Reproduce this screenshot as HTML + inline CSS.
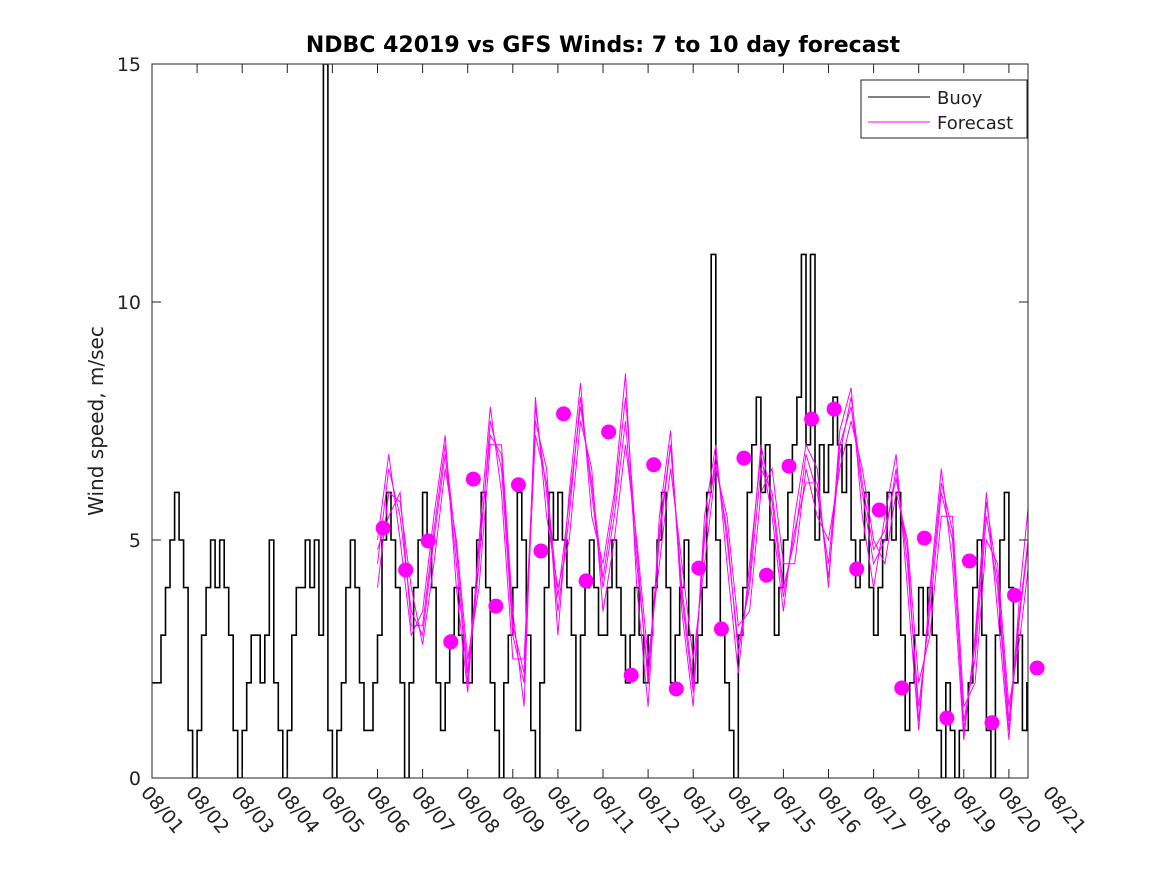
<!DOCTYPE html>
<html><head><meta charset="utf-8"><style>
body{margin:0;background:#fff}
svg{font-family:"DejaVu Sans","Liberation Sans",sans-serif}
</style></head><body>
<svg id="c" width="1167" height="875" xmlns="http://www.w3.org/2000/svg">
<rect width="1167" height="875" fill="#fff"/>
<defs><clipPath id="clip"><rect x="152" y="64" width="876" height="714"/></clipPath></defs>
<text x="603" y="52" text-anchor="middle" font-size="22" font-weight="bold" fill="#000">NDBC 42019 vs GFS Winds: 7 to 10 day forecast</text>
<text transform="translate(103,421) rotate(-90)" text-anchor="middle" font-size="20" fill="#222">Wind speed, m/sec</text>
<g id="plot" clip-path="url(#clip)"></g>
<g id="dots"></g>
<g id="axes"></g>
<g>
<rect x="861" y="80" width="166" height="58" fill="#fff" stroke="#222" stroke-width="1"/>
<line x1="868" y1="97" x2="930" y2="97" stroke="#000" stroke-width="1"/>
<text x="937" y="104" font-size="18" fill="#222">Buoy</text>
<line x1="868" y1="122" x2="930" y2="122" stroke="#f0f" stroke-width="1"/>
<text x="937" y="129" font-size="18" fill="#222">Forecast</text>
</g>
</svg>
<script>
const dateLabels=["08/01","08/02","08/03","08/04","08/05","08/06","08/07","08/08","08/09","08/10","08/11","08/12","08/13","08/14","08/15","08/16","08/17","08/18","08/19","08/20","08/21"];
const yTicks=[0,5,10,15];
const buoyStart=0, buoyStep=0.1;
const buoyV=[2,2,3,4,5,6,5,4,1,0,
1,3,4,5,4,5,4,3,1,0,
1,2,3,3,2,3,5,2,1,0,
1,3,4,4,5,4,5,3,15,1,
0,1,2,4,5,4,2,1,1,2,
3,5,6,5,4,2,0,2,4,5,
6,5,4,2,1,2,3,4,3,2,
2,4,5,6,4,2,1,0,2,3,
4,6,5,3,1,0,2,4,6,5,
6,5,4,3,1,3,4,5,4,3,
3,4,5,4,3,2,3,4,3,2,
3,4,5,6,4,2,3,4,5,3,
2,3,4,6,11,5,3,2,1,0,
3,4,6,7,8,6,7,5,3,4,
5,6,7,8,11,7,11,5,7,6,
7,8,7,6,7,5,4,5,6,4,
3,4,5,6,5,6,3,1,2,3,
4,3,4,3,1,0,2,1,0,1,
1,2,4,5,3,1,0,3,5,6,
4,2,3,1,2];
const fcStart=5.0, fcStep=0.25;
const fc1=[4.5,6.5,5.5,3.5,3.0,5.0,6.8,4.5,2.0,4.5,7.5,6.5,3.0,2.0,7.8,6.0,3.5,5.5,8.0,6.0,4.0,5.5,7.5,4.5,2.2,5.0,7.0,4.0,2.0,5.0,6.8,5.0,2.8,4.0,6.5,6.0,4.0,5.0,6.8,6.0,4.5,7.0,7.8,6.0,4.5,5.0,6.5,4.5,1.5,3.5,6.0,5.0,1.2,2.5,5.5,4.0,1.0,3.5,5.5];
const fc2=[5.0,6.8,5.0,3.0,3.5,5.5,7.2,4.0,1.8,5.0,7.8,6.0,2.5,2.5,7.5,6.5,3.0,6.0,8.3,5.5,4.5,6.0,8.5,4.0,1.5,5.5,7.3,3.5,1.5,5.5,7.0,4.5,2.2,4.5,6.8,5.5,3.5,5.5,7.0,6.5,4.0,7.3,8.2,5.5,4.0,5.5,6.8,4.0,1.0,4.0,6.5,4.5,0.8,3.0,6.0,3.5,0.8,4.0,6.4];
const fc3=[4.0,6.0,5.8,4.0,2.8,4.5,6.5,5.0,2.5,4.0,7.0,7.0,3.5,1.5,8.0,5.5,4.0,5.0,7.5,6.5,3.5,5.0,7.0,5.0,2.5,4.5,6.5,4.5,2.5,4.5,6.5,5.5,3.2,3.5,6.0,6.5,4.5,4.5,6.5,5.5,5.0,6.5,7.5,6.5,5.0,4.5,6.0,5.0,2.0,3.0,5.5,5.5,1.5,2.0,5.0,4.5,1.5,3.0,5.0];
const fc4=[4.8,5.5,6.0,3.2,3.2,5.2,7.0,4.8,2.2,4.8,7.2,6.8,3.2,2.2,7.2,6.2,3.8,5.8,7.8,6.2,4.2,5.8,8.0,4.8,2.0,5.2,7.0,3.8,1.8,5.2,6.6,5.2,2.6,4.2,7.0,5.8,3.8,5.2,6.2,6.2,4.2,6.8,8.0,6.2,4.8,5.2,6.3,4.8,1.2,3.8,6.2,5.2,1.0,2.8,5.8,4.2,1.2,3.6,5.6];
const dotStart=5.125, dotStep=0.5;
const dotV=[5.25,4.37,4.98,2.86,6.28,3.61,6.16,4.77,7.65,4.14,7.27,2.16,6.58,1.87,4.41,3.13,6.72,4.26,6.55,7.54,7.75,4.39,5.63,1.89,5.04,1.26,4.56,1.16,3.84,2.31];

const X0=152,DAY=45.1,Y0=778,YS=714/15,NS="http://www.w3.org/2000/svg";
const xs=d=>X0+d*DAY, ys=v=>Y0-v*YS;
const plot=document.getElementById('plot'),axes=document.getElementById('axes'),dots=document.getElementById('dots');
function mk(tag,at,parent){const e=document.createElementNS(NS,tag);for(const k in at)e.setAttribute(k,at[k]);parent.appendChild(e);return e;}
let p="";buoyV.forEach((v,i)=>{const x1=xs(buoyStart+i*buoyStep),x2=xs(buoyStart+(i+1)*buoyStep);p+=(i?"L":"M")+x1.toFixed(1)+","+ys(v).toFixed(1)+"L"+x2.toFixed(1)+","+ys(v).toFixed(1);});
const bl=mk('path',{d:p,fill:"none",stroke:"#000","stroke-width":"1.6"},plot);


[fc1,fc2,fc3,fc4].forEach((s,k)=>{
 const d=s.map((v,i)=>(i?"L":"M")+xs(fcStart+i*fcStep).toFixed(1)+","+ys(v).toFixed(1)).join("");
 const l=mk('path',{d:d,fill:"none",stroke:"#f0f","stroke-width":"1"},plot);
 
 
});
dotV.forEach((v,i)=>{
 const c=mk('circle',{cx:xs(dotStart+i*dotStep),cy:ys(v),r:7.5,fill:"#f0f"},dots);
 
 
});
const bx=mk('rect',{x:152,y:64,width:876,height:714,fill:"none",stroke:"#222","stroke-width":"1"},axes);


yTicks.forEach(v=>{
 const y=ys(v);
 mk('line',{x1:152,x2:161,y1:y,y2:y,stroke:"#222"},axes);
 mk('line',{x1:1019,x2:1028,y1:y,y2:y,stroke:"#222"},axes);
 const t=mk('text',{x:141,y:y+7,"text-anchor":"end","font-size":"19",fill:"#222"},axes);
 t.textContent=v;
 
 
});
dateLabels.forEach((s,i)=>{
 const x=xs(i);
 if(x<=1029){mk('line',{x1:x,x2:x,y1:778,y2:769,stroke:"#222"},axes);mk('line',{x1:x,x2:x,y1:64,y2:73,stroke:"#222"},axes);}
 const t=mk('text',{transform:`translate(${x-12},${793}) rotate(50)`,"font-size":"19",fill:"#222"},axes);
 t.textContent=s;
 
 
});
</script>
</body></html>
